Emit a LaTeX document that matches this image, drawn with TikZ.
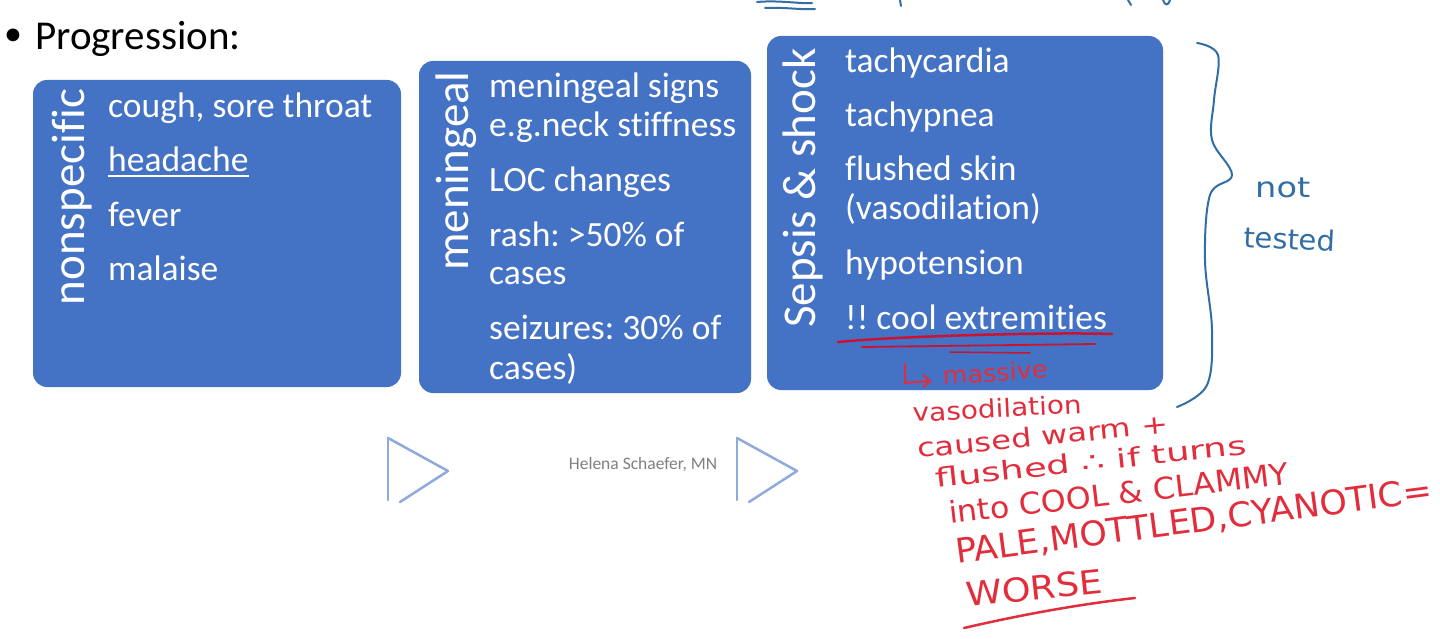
\documentclass[tikz,border=0pt]{standalone}
\usepackage{fontspec}
\setmainfont{Carlito}[Ligatures=NoCommon]
\newfontfamily\handfont{DejaVu Sans}
\usepackage{graphicx}
\definecolor{boxblue}{HTML}{4472C4}
\definecolor{tricol}{HTML}{8FAADC}
\definecolor{pen}{RGB}{226,45,60}
\definecolor{darkpen}{RGB}{200,20,50}
\definecolor{penblue}{RGB}{50,110,165}
\newcommand\hw[2]{\resizebox{#1pt}{\height}{#2}}
\frenchspacing
\begin{document}
\begin{tikzpicture}[x=1pt,y=-1pt,
  box/.style={draw=none, fill=boxblue, rounded corners=14pt, inner sep=0pt},
  item/.style={anchor=base west, inner sep=0pt, text=white, font=\fontsize{35.5}{40}\selectfont},
  vlabel/.style={anchor=base, rotate=90, inner sep=0pt, text=white, font=\fontsize{47}{50}\selectfont},
  hand/.style={anchor=base west, inner sep=0pt, text=pen},
  bluehand/.style={anchor=base west, inner sep=0pt, text=penblue},
  tri/.style={draw=tricol, line width=2.5pt, line join=round, line cap=round},
  redline/.style={draw=darkpen, line width=2.5pt, line cap=round},
  pennote/.style={draw=pen, line width=2pt, line cap=round, line join=round},
  blueline/.style={draw=penblue, line width=2pt, line cap=round, line join=round}]
\useasboundingbox (0,0) rectangle (1440,639);
\fill[white] (0,0) rectangle (1440,639);

% title
\node[inner sep=0pt, font=\fontsize{36}{36}\selectfont] (bullet) at (13,37) {•};
\node[anchor=base west, inner sep=0pt, font=\fontsize{41}{44}\selectfont] (title) at (35,50) {Progression:};

% boxes
\node[box, minimum width=368pt, minimum height=307pt] (b1) at (217,233.5) {};
\node[box, minimum width=332pt, minimum height=332pt] (b2) at (585,227) {};
\node[box, minimum width=396pt, minimum height=354pt] (b3) at (965,213) {};

% vertical labels
\node[vlabel] (l1) at (84,197) {nonspecific};
\node[vlabel] (l2) at (468,171) {meningeal};
\node[vlabel] (l3) at (815,188) {Sepsis \& shock};

% box 1 items
\node[item] (i11) at (108,118) {cough, sore throat};
\node[item] (i12) at (108,172) {headache};
\draw[white, line width=2pt] (i12.south west) ++(0,4) coordinate (u1) -- (i12.south east |- u1) coordinate (u2);
\node[item] (i13) at (108,226) {fever};
\node[item] (i14) at (108,280) {malaise};

% box 2 items
\node[item] (i21) at (489,98) {meningeal signs};
\node[item] (i22) at (489,137) {e.g.neck stiffness};
\node[item] (i23) at (489,192) {LOC changes};
\node[item] (i24) at (489,246) {rash: >50\% of};
\node[item] (i25) at (489,284) {cases};
\node[item] (i26) at (489,339) {seizures: 30\% of};
\node[item] (i27) at (489,379) {cases)};

% box 3 items
\node[item] (i31) at (845,73) {tachycardia};
\node[item] (i32) at (845,127) {tachypnea};
\node[item] (i33) at (845,181) {flushed skin};
\node[item] (i34) at (845,220) {(vasodilation)};
\node[item] (i35) at (845,274) {hypotension};
\node[item] (i36) at (845,329) {!! cool extremities};

% triangles
\coordinate (t1a) at (388,438); \coordinate (t1b) at (388,500);
\coordinate (t1c) at (448,471); \coordinate (t1d) at (400,502);
\draw[tri] (t1a) -- (t1b);
\draw[tri] (t1a) -- (t1c) -- (t1d);
\coordinate (t2a) at (737,438); \coordinate (t2b) at (737,500);
\coordinate (t2c) at (797,471); \coordinate (t2d) at (749,502);
\draw[tri] (t2a) -- (t2b);
\draw[tri] (t2a) -- (t2c) -- (t2d);

% footer
\node[text=gray, font=\fontsize{17.5}{20}\selectfont, inner sep=0pt] (footer) at (643,465) {Helena Schaefer, MN};

% red underline of cool extremities
\coordinate (r1a) at (838,342); \coordinate (r1b) at (1112,334);
\draw[redline] (r1a) .. controls (900,336) and (1050,332) .. (r1b);
\coordinate (r2a) at (862,347); \coordinate (r2b) at (1095,344);
\draw[redline, line width=1.8pt] (r2a) -- (r2b);
\coordinate (r3a) at (950,352); \coordinate (r3b) at (1030,353);
\draw[redline, line width=1.5pt] (r3a) -- (r3b);

% handwritten note (red)
\coordinate (arA) at (905,364); \coordinate (arB) at (905,383); \coordinate (arC) at (930,381);
\draw[pennote] (arA) -- (arB) -- (arC);
\draw[pennote] (923,375) -- (arC) -- (923,387);
\node[hand, rotate=4, font=\handfont\fontsize{24}{26}\selectfont] (h1) at (943,385) {\hw{105}{massive}};
\node[hand, rotate=3, font=\handfont\fontsize{25}{27}\selectfont] (h2) at (913,422) {\hw{169}{vasodilation}};
\node[hand, rotate=5.7, font=\handfont\fontsize{26}{28}\selectfont] (h3) at (918,458) {\hw{252}{caused warm +}};
\node[hand, rotate=6.2, font=\handfont\fontsize{26}{28}\selectfont] (h4) at (936,488) {\hw{313}{flushed ∴ if turns}};
\node[hand, rotate=6.7, font=\handfont\fontsize{30}{32}\selectfont] (h5) at (950,524) {\hw{342}{into COOL \& CLAMMY}};
\node[hand, rotate=7.5, font=\handfont\fontsize{34}{36}\selectfont] (h6) at (957,564) {\hw{480}{PALE,MOTTLED,CYANOTIC=}};
\node[hand, rotate=5.9, font=\handfont\fontsize{33}{35}\selectfont] (h7) at (967,607) {\hw{137}{WORSE}};
\coordinate (wu1) at (964,628); \coordinate (wu2) at (1135,598);
\draw[pennote, line width=2.5pt] (wu1) .. controls (1020,615) and (1080,604) .. (wu2);

% blue brace and note
\draw[blueline] plot[smooth, tension=0.6] coordinates {(1197,43) (1218,55) (1214,100) (1212,140) (1232,175) (1210,195) (1205,260) (1212,330) (1207,385) (1177,407)};
\node[bluehand, font=\handfont\fontsize{28}{30}\selectfont] (nt) at (1255,197) {\hw{55}{not}};
\node[bluehand, rotate=-3, font=\handfont\fontsize{28}{30}\selectfont] (ts) at (1243,247) {\hw{92}{tested}};

% scribbles cut at top edge
\draw[blueline] (757,2) .. controls (780,0) and (800,4) .. (812,3);
\draw[blueline] (765,8) .. controls (785,7) and (800,10) .. (815,9);
\draw[blueline] (900,0) -- (901,6);
\draw[blueline] (1128,0) -- (1131,5);
\draw[blueline] (1163,0) .. controls (1165,6) and (1168,6) .. (1170,0);
\end{tikzpicture}
\end{document}
